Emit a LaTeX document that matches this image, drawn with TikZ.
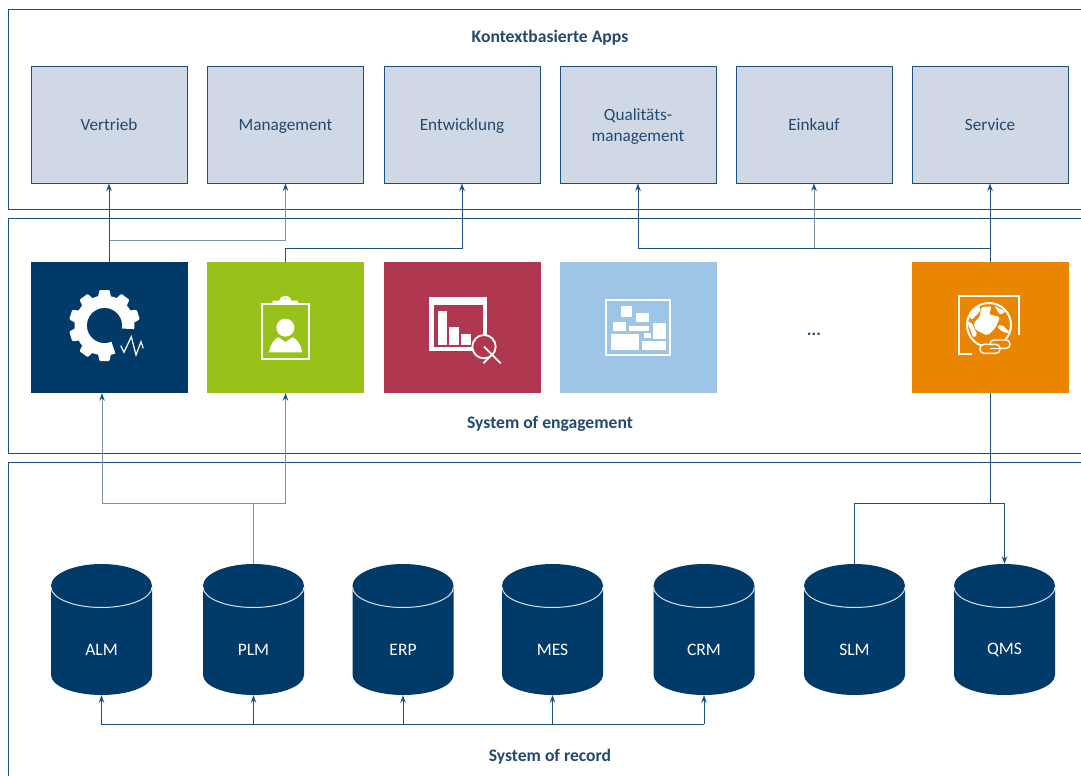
\documentclass[tikz,border=0pt]{standalone}
\usepackage{fontspec}
\setmainfont{Carlito}
\usetikzlibrary{arrows.meta}
\definecolor{navy}{HTML}{003A68}
\definecolor{linkblue}{HTML}{1D5080}
\definecolor{linkgrey}{HTML}{7F90AC}
\definecolor{appfill}{HTML}{D0D8E6}
\definecolor{txt}{HTML}{23496E}
\definecolor{greenbox}{HTML}{98C21A}
\definecolor{redbox}{HTML}{AF374F}
\definecolor{bluebox}{HTML}{9EC5E6}
\definecolor{orangebox}{HTML}{EA8500}
\tikzset{
  panel/.style={draw=linkblue,line width=0.9pt},
  appbox/.style={draw=linkblue,line width=1pt,fill=appfill,minimum width=156pt,minimum height=116pt,inner sep=0pt,align=center,text=txt,font=\fontsize{17.2}{21}\selectfont},
  tile/.style={minimum width=157pt,minimum height=131pt,inner sep=0pt},
  head/.style={text=txt,font=\fontsize{17.6}{20}\selectfont\bfseries,inner sep=0pt},
  cylbox/.style={minimum width=101pt,minimum height=131pt,inner sep=0pt},
  cyltext/.style={text=white,font=\fontsize{17.5}{20}\selectfont,inner sep=0pt},
  link/.style={draw=linkblue,line width=1pt},
  linkg/.style={draw=linkgrey,line width=1pt},
  tip/.style={-{Stealth[length=7.5pt,width=5.5pt,color=linkblue]}},
  ico/.style={draw=white,line width=2pt,fill=none}
}
\newcommand{\lbl}[1]{\rule{0pt}{16.7pt}#1\strut}
\newcommand{\dbcyl}[3]{%
  \fill[navy] (#2-50.5,586) arc[start angle=180,end angle=360,x radius=50.5,y radius=22]
     -- (#2+50.5,675) arc[start angle=0,end angle=180,x radius=50.5,y radius=20] -- cycle;
  \draw[white!85!navy,line width=1pt] (#2-50.5,587) arc[start angle=180,end angle=0,x radius=50.5,y radius=20.5];
  \node[cylbox] (#1) at (#2,629.5) {};
  \node[cyltext] (#1t) at (#2,650) {#3};
}
\begin{document}
\begin{tikzpicture}[x=1pt,y=-1pt]
\useasboundingbox (0,0) rectangle (1081,776);
\fill[white] (0,0) rectangle (1081,776);
% panels
\draw[panel] (1081,9) -- (8.5,9) -- (8.5,209.5) -- (1081,209.5);
\draw[panel] (1081,218.5) -- (8.5,218.5) -- (8.5,453.5) -- (1081,453.5);
\draw[panel] (1081,462.5) -- (8.5,462.5) -- (8.5,776);
% headings
\node[head] (h1) at (550,38) {Kontextbasierte Apps};
\node[head] (h2) at (550,424) {System of engagement};
\node[head] (h3) at (550,756.5) {System of record};
% app boxes
\node[appbox] (a1) at (109,125) {\lbl{Vertrieb}};
\node[appbox] (a2) at (285.5,125) {\lbl{Management}};
\node[appbox] (a3) at (462,125) {\lbl{Entwicklung}};
\node[appbox] (a4) at (638,125) {\rule{0pt}{18.7pt}Qualitäts-\strut\\management\strut};
\node[appbox] (a5) at (814,125) {\lbl{Einkauf}};
\node[appbox] (a6) at (990,125) {\lbl{Service}};
% tiles
\node[tile,fill=navy] (t1) at (109,327.5) {};
\node[tile,fill=greenbox] (t2) at (285.5,327.5) {};
\node[tile,fill=redbox] (t3) at (462,327.5) {};
\node[tile,fill=bluebox] (t4) at (638,327.5) {};
\node[text=txt,font=\fontsize{17.5}{20}\selectfont\bfseries,inner sep=0pt] (dots) at (814,334) {...};
\node[tile,fill=orangebox] (t6) at (990,327.5) {};
% gear icon
\begin{scope}[shift={(104.5,325.5)},yscale=-1]
  \foreach \a in {-18,-54,-90,-126,-162,-198,-234,-270}
    \fill[white,rotate=\a,rounded corners=1pt] (27,-6.8) -- (35.5,-5) -- (35.5,5) -- (27,6.8) -- cycle;
  \draw[white,line width=12.3pt] (-8:23.8) arc[start angle=-8,end angle=292,radius=23.8];
\end{scope}
\draw[white,line width=1.2pt] (120.7,345.7) -- (124,352.3) -- (131.3,336.7) -- (136,355) -- (141,341.7) -- (143.3,348.3);
% clipboard icon (zoom coordinates)
\begin{scope}[shift={(0,170)},scale=1/3]
  \draw[ico,line width=1.8pt] (786,402) rectangle (926,566);
  \fill[white] (818,402) -- (818,392) -- (838,392) .. controls (842,372) and (870,372) .. (874,392) -- (894,392) -- (894,402) -- cycle;
  \fill[greenbox] (856,386) circle[radius=2];
  \fill[white] (856,473) circle[radius=27];
  \fill[white] (807,547) .. controls (812,520) and (825,505) .. (836,502) -- (856,516) -- (878,502) .. controls (890,505) and (903,525) .. (907,547) -- cycle;
\end{scope}
% chart icon
\begin{scope}[shift={(420,290)},scale=1/3]
  \fill[white] (28,20) rectangle (200,182);
  \fill[redbox] (42,45) rectangle (188,170);
  \fill[white] (53,62) rectangle (82,166);
  \fill[white] (88,110) rectangle (118,166);
  \fill[white] (124,133) rectangle (154,166);
  \draw[white,fill=redbox,line width=1.8pt] (192,170) circle[radius=35];
  \draw[white,line width=1.8pt] (192,170) -- (242,220);
  \draw[white,line width=1.8pt] (190,220) -- (212,198);
\end{scope}
% layout icon
\begin{scope}[shift={(370,230)},scale=1/3]
  \draw[ico] (707,211) rectangle (899,376);
  \fill[white] (752,227) rectangle (785,260);
  \fill[white] (797,248) rectangle (836,276);
  \fill[white] (730,275) rectangle (767,304);
  \fill[white] (776,287) rectangle (836,304);
  \fill[white] (849,278) rectangle (887,327);
  \fill[white] (821,310) rectangle (842,325);
  \fill[white] (722,311) rectangle (806,361);
  \fill[white] (815,334) rectangle (887,361);
\end{scope}
% globe icon
\begin{scope}[shift={(945,285)},scale=1/3]
  \draw[white,line width=2pt] (82,208) -- (41,208) -- (41,33) -- (221,33) -- (221,150);
  \draw[white,line width=2pt] (132,120) circle[radius=66];
  \fill[white,rounded corners=2pt] (108,66) -- (140,64) -- (132,88) -- (165,96) -- (152,128) -- (128,152) -- (92,135) -- (85,115) -- (105,95) -- cycle;
  \fill[white,rounded corners=2pt] (72,95) -- (100,58) -- (108,75) -- (95,90) -- (80,105) -- cycle;
  \fill[white,rounded corners=2pt] (148,62) -- (182,80) -- (165,90) -- cycle;
  \fill[white,rounded corners=2pt] (155,125) -- (170,118) -- (197,145) -- (175,142) -- cycle;
  \fill[white,rounded corners=2pt] (66,110) -- (78,110) -- (98,150) -- (85,158) -- cycle;
  \draw[white,fill=orangebox,line width=1.4pt,rounded corners=4pt] (135,165) rectangle (195,190);
  \draw[white,fill=orangebox,line width=1.4pt,rounded corners=4pt] (105,178) rectangle (165,205);
  \draw[white,line width=1.4pt] (135,190) -- (165,190);
\end{scope}
% cylinders
\dbcyl{c1}{101.5}{ALM}
\dbcyl{c2}{253.5}{PLM}
\dbcyl{c3}{403}{ERP}
\dbcyl{c4}{552.5}{MES}
\dbcyl{c5}{704}{CRM}
\dbcyl{c6}{854.5}{SLM}
\dbcyl{c7}{1004.5}{QMS}
% junction points
\coordinate (g1) at (109,240);
\coordinate (b2) at (285.5,248);
\coordinate (o1) at (990,248);
\coordinate (up1) at (102,503);
\coordinate (up2) at (285.5,503);
\coordinate (upj) at (253.5,503);
\coordinate (oj) at (990,503);
\coordinate (bl) at (101.5,724);
\coordinate (br) at (704,724);
% upper connectors
\draw[linkg,tip] (g1) -| (a2.south);
\draw[link,tip] (t1.north) -- (a1.south);
\draw[link,tip] (t2.north) -- (b2) -| (a3.south);
\draw[linkg,tip] (a5.south |- o1) -- (a5.south);
\draw[link,tip] (o1) -| (a4.south);
\draw[link,tip] (t6.north) -- (a6.south);
% lower connectors
\draw[linkg] (c2.north) -- (upj);
\draw[linkg,tip] (upj) -- (up1) -- (up1 |- t1.south);
\draw[linkg,tip] (upj) -- (up2) -- (t2.south);
\draw[link] (t6.south) -- (oj);
\draw[link,tip] (c6.north) -- (c6.north |- oj) -| (c7.north);
\draw[link,tip] (br) -- (bl) -- (c1.south);
\draw[link,tip] (br) -- (c5.south);
\draw[link,tip] (c2.south |- bl) -- (c2.south);
\draw[link,tip] (c3.south |- bl) -- (c3.south);
\draw[link,tip] (c4.south |- bl) -- (c4.south);
\end{tikzpicture}
\end{document}
